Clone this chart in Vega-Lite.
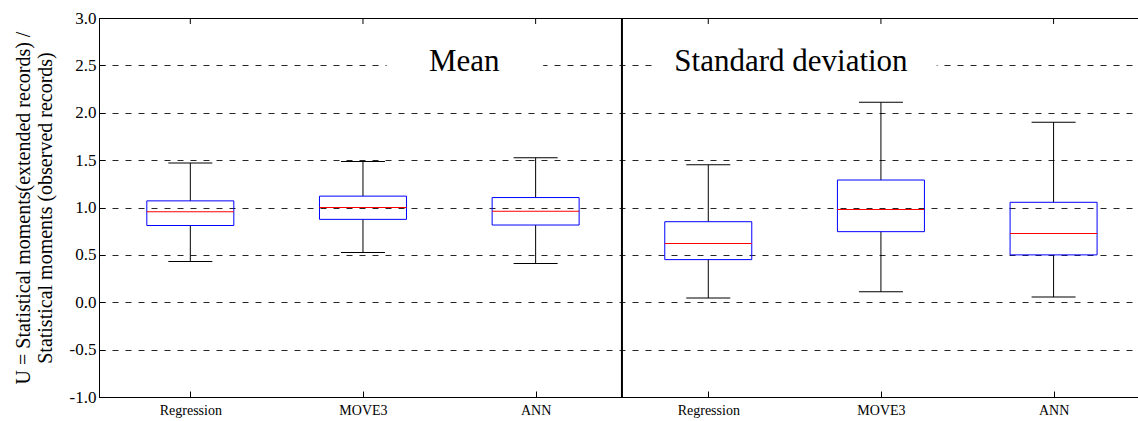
{
  "$schema": "https://vega.github.io/schema/vega-lite/v6.json",
  "width": 1039,
  "height": 379,
  "autosize": {"type": "none"},
  "padding": {"left": 99, "top": 18, "right": 0, "bottom": 24},
  "background": "white",
  "config": {
    "view": {"stroke": "#000", "strokeWidth": 1},
    "font": "Liberation Serif",
    "axis": {"labelFont": "Liberation Serif", "titleFont": "Liberation Serif"},
    "text": {"font": "Liberation Serif"}
  },
  "datasets": {
    "boxes": [
      {"group": "Mean", "method": "Regression", "pos": 1, "lower": 0.43, "q1": 0.81, "median": 0.955, "q3": 1.07, "upper": 1.47},
      {"group": "Mean", "method": "MOVE3", "pos": 2, "lower": 0.525, "q1": 0.875, "median": 1.0, "q3": 1.12, "upper": 1.485},
      {"group": "Mean", "method": "ANN", "pos": 3, "lower": 0.41, "q1": 0.815, "median": 0.96, "q3": 1.105, "upper": 1.525},
      {"group": "Standard deviation", "method": "Regression", "pos": 4, "lower": 0.045, "q1": 0.45, "median": 0.62, "q3": 0.85, "upper": 1.45},
      {"group": "Standard deviation", "method": "MOVE3", "pos": 5, "lower": 0.11, "q1": 0.745, "median": 0.98, "q3": 1.29, "upper": 2.11},
      {"group": "Standard deviation", "method": "ANN", "pos": 6, "lower": 0.055, "q1": 0.5, "median": 0.725, "q3": 1.055, "upper": 1.9}
    ],
    "notes": [
      {"label": "Mean", "x": 2.587, "y": 2.445, "x1": 2.137, "x2": 3.044},
      {"label": "Standard deviation", "x": 4.479, "y": 2.445, "x1": 3.675, "x2": 5.323}
    ],
    "divider": [{"split": 3.5}]
  },
  "layer": [
    {
      "data": {"name": "notes"},
      "mark": {"type": "rect", "fill": "white", "stroke": null},
      "encoding": {
        "x": {
          "field": "x1", "type": "quantitative",
          "scale": {"domain": [0.5, 6.46], "nice": false, "zero": false},
          "axis": {
            "orient": "bottom", "values": [1, 2, 3, 4, 5, 6], "title": null, "grid": false,
            "labelExpr": "datum.value == 1 || datum.value == 4 ? 'Regression' : (datum.value == 2 || datum.value == 5 ? 'MOVE3' : 'ANN')",
            "tickSize": -6, "tickColor": "#000", "domainColor": "#000", "labelColor": "#000",
            "labelFontSize": 14, "labelPadding": 12, "labelFont": "Liberation Serif"
          }
        },
        "x2": {"field": "x2"},
        "y": {
          "datum": 2.38, "type": "quantitative",
          "scale": {"domain": [-1, 3], "nice": false, "zero": false},
          "axis": {
            "orient": "left", "values": [-1, -0.5, 0, 0.5, 1, 1.5, 2, 2.5, 3],
            "labelExpr": "replace(format(datum.value, '.1f'), '\u2212', '-')",
            "grid": true, "gridDash": [6, 7], "gridColor": "#000", "gridOpacity": 0.85,
            "tickSize": -6, "tickColor": "#000", "domainColor": "#000", "labelColor": "#000",
            "labelFontSize": 17, "labelPadding": 9, "labelFont": "Liberation Serif",
            "title": ["U = Statistical moments(extended records) /", "Statistical moments (observed records)"],
            "titleFontSize": 20, "titleFontWeight": "normal", "titleColor": "#000", "titleLineHeight": 22, "titlePadding": 14, "titleFont": "Liberation Serif"
          }
        },
        "y2": {"datum": 2.62}
      }
    },
    {
      "data": {"name": "boxes"},
      "mark": {"type": "rule", "color": "#000", "strokeWidth": 1},
      "encoding": {
        "x": {"field": "pos", "type": "quantitative"},
        "y": {"datum": 3, "type": "quantitative"},
        "y2": {"datum": 2.937}
      }
    },
    {
      "data": {"name": "divider"},
      "mark": {"type": "rule", "color": "#000", "strokeWidth": 2},
      "encoding": {
        "x": {"field": "split", "type": "quantitative"}
      }
    },
    {
      "data": {"name": "boxes"},
      "mark": {"type": "rule", "color": "#000", "strokeWidth": 1},
      "encoding": {
        "x": {"field": "pos", "type": "quantitative"},
        "y": {"field": "lower", "type": "quantitative"},
        "y2": {"field": "q1"}
      }
    },
    {
      "data": {"name": "boxes"},
      "mark": {"type": "rule", "color": "#000", "strokeWidth": 1},
      "encoding": {
        "x": {"field": "pos", "type": "quantitative"},
        "y": {"field": "q3", "type": "quantitative"},
        "y2": {"field": "upper"}
      }
    },
    {
      "data": {"name": "boxes"},
      "mark": {"type": "tick", "orient": "horizontal", "color": "#000", "size": 44, "thickness": 1, "opacity": 1},
      "encoding": {
        "x": {"field": "pos", "type": "quantitative"},
        "y": {"field": "lower", "type": "quantitative"}
      }
    },
    {
      "data": {"name": "boxes"},
      "mark": {"type": "tick", "orient": "horizontal", "color": "#000", "size": 44, "thickness": 1, "opacity": 1},
      "encoding": {
        "x": {"field": "pos", "type": "quantitative"},
        "y": {"field": "upper", "type": "quantitative"}
      }
    },
    {
      "data": {"name": "boxes"},
      "mark": {"type": "bar", "size": 87, "fill": null, "fillOpacity": 0, "stroke": "#0000ff", "strokeWidth": 1},
      "encoding": {
        "x": {"field": "pos", "type": "quantitative"},
        "y": {"field": "q1", "type": "quantitative"},
        "y2": {"field": "q3"}
      }
    },
    {
      "data": {"name": "boxes"},
      "mark": {"type": "tick", "orient": "horizontal", "color": "#ff0000", "size": 87, "thickness": 1, "opacity": 1},
      "encoding": {
        "x": {"field": "pos", "type": "quantitative"},
        "y": {"field": "median", "type": "quantitative"}
      }
    },
    {
      "data": {"name": "notes"},
      "mark": {"type": "text", "font": "Liberation Serif", "fontSize": 31, "align": "center", "baseline": "alphabetic", "color": "#000"},
      "encoding": {
        "x": {"field": "x", "type": "quantitative"},
        "y": {"field": "y", "type": "quantitative"},
        "text": {"field": "label"}
      }
    }
  ]
}
